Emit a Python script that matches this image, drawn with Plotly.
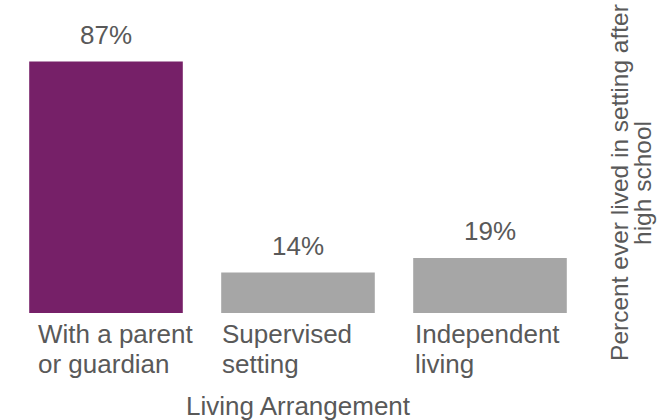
import plotly.graph_objects as go

# Living arrangements after high school
categories = ["With a parent<br>or guardian", "Supervised<br>setting", "Independent<br>living"]
percent_ever_lived = [87, 14, 19]
value_labels = ["87%", "14%", "19%"]
x_axis_title = "Living Arrangement"
y_axis_title = "Percent ever lived in setting after<br>high school"

bar_colors = ["#762068", "#A6A6A6", "#A6A6A6"]
text_color = "#595959"
font_family = "Liberation Sans, Arial, sans-serif"
label_size = 26

x_pos = list(range(len(categories)))

fig = go.Figure(
    go.Bar(
        x=x_pos,
        y=percent_ever_lived,
        marker=dict(color=bar_colors, line=dict(width=0)),
        width=0.8,
        hoverinfo="skip",
    )
)

annotations = []

# value labels above each bar
for xi, val, lab in zip(x_pos, percent_ever_lived, value_labels):
    annotations.append(dict(
        x=xi, y=val, xref="x", yref="y",
        text=lab, showarrow=False,
        xanchor="center", yanchor="bottom", yshift=10,
        font=dict(size=label_size, color=text_color, family=font_family),
    ))

# left-aligned category labels, one annotation per text line
label_nudge = [7, -1, 0]
for xi, cat, nudge in zip(x_pos, categories, label_nudge):
    for li, line in enumerate(cat.split("<br>")):
        annotations.append(dict(
            x=xi - 0.4, y=0, xref="x", yref="paper",
            text=line, showarrow=False,
            xanchor="left", yanchor="middle",
            xshift=nudge, yshift=-21 - 30 * li,
            font=dict(size=label_size, color=text_color, family=font_family),
        ))

# x axis title
annotations.append(dict(
    x=0.5, y=0, xref="paper", yref="paper",
    text=x_axis_title, showarrow=False,
    xanchor="center", yanchor="middle", yshift=-93,
    font=dict(size=label_size, color=text_color, family=font_family),
))

# vertical axis title on the right, tightly spaced lines
for li, line in enumerate(y_axis_title.split("<br>")):
    annotations.append(dict(
        x=1, y=0.45, xref="paper", yref="paper",
        text=line, showarrow=False, textangle=-90,
        xanchor="center", yanchor="middle",
        xshift=34 + 23 * li,
        font=dict(size=24.5, color=text_color, family=font_family),
    ))

fig.update_layout(
    width=659, height=420,
    margin=dict(l=10, r=73, t=24, b=107),
    paper_bgcolor="white", plot_bgcolor="white",
    showlegend=False,
    bargap=0.2,
    xaxis=dict(range=[-0.5, 2.5], showticklabels=False, showgrid=False,
               zeroline=False, showline=False, ticks=""),
    yaxis=dict(range=[0, 100], showticklabels=False, showgrid=False,
               zeroline=False, showline=False, ticks=""),
    annotations=annotations,
)

fig.write_html("out.html", config={"displayModeBar": False})
